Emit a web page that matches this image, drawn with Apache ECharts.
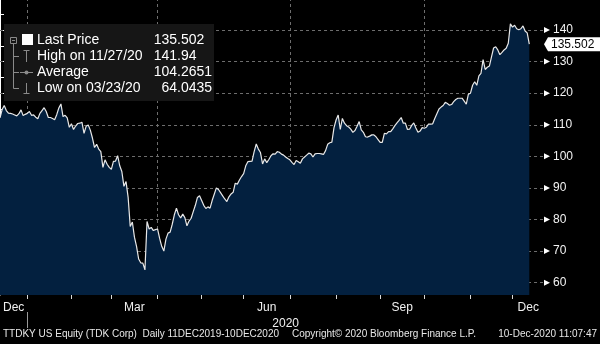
<!DOCTYPE html>
<html>
<head>
<meta charset="utf-8">
<script src="https://cdn.jsdelivr.net/npm/echarts@6/dist/echarts.min.js"></script>
<style>
  html, body { margin: 0; padding: 0; background: #000; }
  #chart { width: 600px; height: 344px; }
</style>
</head>
<body>
<div id="chart"></div>
<script>
// ---- data -------------------------------------------------------------
const firstDay = '2019-12-11';
const lastDay = '2020-12-10';
const marketHolidays = ['2019-12-25', '2020-01-01', '2020-01-20', '2020-02-17', '2020-04-10',
  '2020-05-25', '2020-07-03', '2020-09-07', '2020-11-26'];

// daily closes, TTDKY
const prices = [
  112.2, 114.8, 116.1, 114.5, 113.7, 113.6, 113.4, 113.1, 112.8, 113.5,
  114.7, 112.9, 113.3, 113.6, 114.2, 113.0, 113.1, 112.4, 111.9, 113.6,
  114.5, 115.4, 114.2, 112.3, 112.3, 112.0, 111.6, 113.2, 115.3, 116.6,
  112.6, 113.0, 112.2, 109.2, 110.3, 108.5, 109.6, 110.4, 110.5, 110.8,
  107.3, 109.5, 109.9, 108.3, 105.8, 102.8, 103.8, 102.3, 101.5, 96.5,
  98.9, 97.5, 96.5, 95.9, 98.4, 98.5, 100.2, 97.0, 95.2, 90.5,
  92.0, 87.0, 77.8, 79.2, 74.4, 71.5, 67.5, 66.3, 66.2, 64.0435,
  79.4, 77.0, 77.5, 76.5, 76.8, 77.0, 74.0, 71.5, 70.0, 73.8,
  75.7, 76.0, 78.5, 81.5, 83.6, 81.5, 80.5, 81.7, 80.6, 78.0,
  79.5, 80.4, 82.5, 84.5, 87.0, 87.5, 86.0, 84.5, 83.5, 84.0,
  83.6, 86.0, 88.0, 90.0, 89.5, 88.5, 87.5, 86.5, 85.7, 87.2,
  88.1, 88.6, 91.5, 91.2, 92.5, 93.6, 94.5, 97.0, 98.3, 98.4,
  98.5, 101.5, 103.9, 102.3, 101.2, 97.6, 99.2, 98.0, 99.0, 100.2,
  100.8, 100.7, 101.5, 101.3, 100.7, 100.4, 99.8, 99.3, 98.9, 98.1,
  97.4, 98.7, 98.3, 97.8, 99.2, 99.8, 100.4, 101.0, 100.8, 99.8,
  100.8, 100.9, 100.9, 100.8, 100.6, 101.8, 103.8, 104.3, 104.5, 109.0,
  111.5, 113.1, 108.5, 112.0, 110.5, 109.7, 109.3, 108.6, 107.6, 108.2,
  109.5, 111.0, 108.4, 107.6, 106.2, 106.1, 106.4, 106.8, 106.8, 106.2,
  105.3, 104.4, 104.4, 107.3, 107.1, 107.8, 107.8, 108.7, 109.7, 110.6,
  111.4, 112.3, 110.5, 110.5, 108.5, 108.6, 109.8, 110.6, 109.0, 107.6,
  108.0, 109.1, 108.9, 109.2, 110.2, 110.2, 110.3, 112.0, 113.5, 115.0,
  115.6, 116.1, 117.1, 116.7, 116.2, 116.4, 117.3, 118.0, 118.4, 118.4,
  118.4, 117.5, 116.5, 119.7, 120.0, 122.5, 123.6, 122.5, 125.5, 126.3,
  130.6, 127.5, 128.2, 128.6, 131.5, 134.3, 134.7, 133.7, 132.2, 132.9,
  133.7, 134.2, 135.8, 141.94, 140.9, 141.5, 140.4, 140.1, 140.4, 141.3,
  139.7, 139.1, 135.502
];

const averageText = '104.2651';
const yLabelTicks = [60, 70, 80, 90, 100, 110, 120, 130, 140];
const yMinorTicks = [60, 65, 70, 75, 80, 85, 90, 95, 100, 105, 110, 115, 120, 125, 130, 135, 140, 145];
const monthNames = ['Jan', 'Feb', 'Mar', 'Apr', 'May', 'Jun', 'Jul', 'Aug', 'Sep', 'Oct', 'Nov', 'Dec'];
const labelledMonths = [11, 2, 5, 8];   // Dec, Mar, Jun, Sep
const gridMonths = [0, 3, 6, 9];        // quarter starts
const yearText = '2020';
const footerLeft = 'TTDKY US Equity (TDK Corp)  Daily 11DEC2019-10DEC2020';
const footerMid = 'Copyright\u00A9 2020 Bloomberg Finance L.P.';
const footerRight = '10-Dec-2020 11:07:47';

// ---- trading calendar ---------------------------------------------------
function buildTradingDays(from, to, closed) {
  const skip = new Set(closed);
  const out = [];
  const end = Date.parse(to + 'T00:00:00Z');
  for (let t = Date.parse(from + 'T00:00:00Z'); t <= end; t += 86400000) {
    const d = new Date(t);
    const wd = d.getUTCDay();
    const iso = d.toISOString().slice(0, 10);
    if (wd === 0 || wd === 6 || skip.has(iso)) continue;
    out.push(iso);
  }
  return out;
}
const tradeDates = buildTradingDays(firstDay, lastDay, marketHolidays);

const xEnd = 259;   // axis runs a few sessions past the last close
const yMin = 56.1, yMax = 149.5;

// month boundaries (tick sits on the last session of the previous month)
const months = [];
tradeDates.forEach((d, i) => {
  const m = +d.slice(5, 7) - 1;
  if (i === 0 || m !== months[months.length - 1].month) {
    months.push({ month: m, start: i, edge: i === 0 ? 0 : i - 1 });
  }
});
months.forEach((mo, k) => {
  mo.end = k + 1 < months.length ? months[k + 1].edge : xEnd;
  mo.mid = (mo.edge + mo.end) / 2;
});
const monthTicks = months.slice(1).map(m => m.edge);
const gridX = months.slice(1).filter(m => gridMonths.includes(m.month)).map(m => m.edge);
const labelled = months.filter(m => labelledMonths.includes(m.month));
const labelPos = labelled.map(m => m.mid);
const yearStart = months.find(m => m.month === 0).edge;

// summary stats
const lastVal = prices[prices.length - 1];
let hiIdx = 0, loIdx = 0;
prices.forEach((v, i) => { if (v > prices[hiIdx]) hiIdx = i; if (v < prices[loIdx]) loIdx = i; });
const fmtDate = iso => iso.slice(5, 7) + '/' + iso.slice(8, 10) + '/' + iso.slice(2, 4);
const statRows = [
  ['Last Price', String(lastVal)],
  ['High on ' + fmtDate(tradeDates[hiIdx]), String(prices[hiIdx])],
  ['Average', averageText],
  ['Low on ' + fmtDate(tradeDates[loIdx]), String(prices[loIdx])]
];

// ---- chart ------------------------------------------------------------
const chart = echarts.init(document.getElementById('chart'), null, { renderer: 'canvas' });
const FONT = '"Liberation Sans", Arial, sans-serif';
const gridDash = { color: '#6e6e6e', width: 1, type: [3, 3] };

chart.setOption({
  backgroundColor: '#000',
  animation: false,
  grid: { left: 0, top: 0, right: 56, bottom: 49 },
  xAxis: [
    {
      type: 'value', min: 0, max: xEnd,
      axisLine: { show: false },
      axisTick: { show: true, customValues: monthTicks, length: 4, lineStyle: { color: '#d8d8d8' } },
      axisLabel: {
        customValues: labelPos, margin: 7, color: '#f0f0f0', fontSize: 12, fontFamily: FONT,
        formatter: v => {
          const k = labelPos.findIndex(p => Math.abs(p - v) < 1e-6);
          return k >= 0 ? monthNames[labelled[k].month] : '';
        }
      },
      splitLine: { show: false }
    },
    {
      type: 'value', min: 0, max: xEnd, position: 'bottom', offset: 16,
      axisLine: { show: false }, axisTick: { show: false }, splitLine: { show: false },
      axisLabel: {
        customValues: [(yearStart + xEnd) / 2], margin: 7, color: '#f0f0f0', fontSize: 12, fontFamily: FONT,
        formatter: () => yearText
      }
    }
  ],
  yAxis: {
    type: 'value', position: 'right', min: yMin, max: yMax,
    axisLine: { show: true, lineStyle: { color: '#ffffff', width: 1 } },
    axisTick: { show: true, customValues: yMinorTicks, length: 4, inside: false, lineStyle: { color: '#ffffff' } },
    axisLabel: { customValues: yLabelTicks, margin: 9, color: '#f2f2f2', fontSize: 12, fontFamily: FONT },
    splitLine: { show: false }
  },
  series: [{
    type: 'line',
    data: prices.map((v, i) => [i, v]),
    showSymbol: false,
    lineStyle: { color: '#e8e8e8', width: 1.2 },
    areaStyle: { color: '#03203f', opacity: 1, origin: 'start' },
    z: 3,
    markLine: {
      silent: true, symbol: 'none', label: { show: false }, lineStyle: gridDash, z: 2,
      data: yLabelTicks.map(v => ({ yAxis: v })).concat(gridX.map(v => ({ xAxis: v })))
    },
    markPoint: {
      silent: true, symbol: 'triangle', symbolSize: [6, 6], symbolRotate: -90, symbolOffset: [3, 0],
      itemStyle: { color: '#ffffff' }, label: { show: false },
      data: yLabelTicks.map(v => ({ coord: [xEnd, v] }))
    }
  }]
});

// ---- overlays ---------------------------------------------------------
const grey = '#8a8a8a';
const txt = (x, y, s, extra) => Object.assign({
  type: 'text', x, y,
  style: { text: s, fill: '#ffffff', font: '14px ' + FONT, verticalAlign: 'middle' }
}, extra || {});
const ln = (x1, y1, x2, y2, color) => ({
  type: 'line', shape: { x1, y1, x2, y2 }, style: { stroke: color || grey, lineWidth: 1 }
});

const rowY = [40.5, 56.5, 72.5, 88.5];
const decimalX = 177;
const legendEls = [
  { type: 'rect', shape: { x: 4, y: 24, width: 210, height: 77 }, style: { fill: '#161616' } },
  { type: 'rect', shape: { x: 10.5, y: 37.5, width: 6, height: 6 }, style: { fill: 'none', stroke: grey, lineWidth: 1 } },
  ln(12, 40.5, 15, 40.5),
  ln(13.5, 44, 13.5, rowY[3]),
  ln(13.5, rowY[1], 19, rowY[1]),
  ln(13.5, rowY[2], 19, rowY[2]),
  ln(13.5, rowY[3], 19, rowY[3]),
  { type: 'rect', shape: { x: 22, y: 34, width: 11, height: 11 }, style: { fill: '#ffffff' } },
  ln(23.5, 50.5, 29.5, 50.5), ln(26.5, 50.5, 26.5, 62),
  ln(20, rowY[2], 33, rowY[2]),
  { type: 'circle', shape: { cx: 26.5, cy: rowY[2], r: 2 }, style: { fill: grey } },
  ln(26.5, 83, 26.5, 93), ln(23.5, 93.5, 29.5, 93.5)
];
statRows.forEach((r, k) => {
  const parts = r[1].split('.');
  legendEls.push(txt(37, rowY[k], r[0]));
  legendEls.push(txt(decimalX, rowY[k], parts[0], { style: { text: parts[0], fill: '#fff', font: '14px ' + FONT, verticalAlign: 'middle', align: 'right' } }));
  legendEls.push(txt(decimalX, rowY[k], '.' + parts[1], { style: { text: '.' + parts[1], fill: '#fff', font: '14px ' + FONT, verticalAlign: 'middle', align: 'left' } }));
});

const footFont = '10px ' + FONT;
const footerEls = [
  { type: 'text', x: 3, y: 334, style: { text: footerLeft, fill: '#e8e8e8', font: footFont, verticalAlign: 'middle' } },
  { type: 'text', x: 292, y: 334, style: { text: footerMid, fill: '#e8e8e8', font: footFont, verticalAlign: 'middle' } },
  { type: 'text', x: 597, y: 334, style: { text: footerRight, fill: '#e8e8e8', font: footFont, verticalAlign: 'middle', align: 'right' } }
];

// last-price tag on the axis, and the year divider
const tagY = chart.convertToPixel({ yAxisIndex: 0 }, lastVal);
const axisX = chart.convertToPixel({ xAxisIndex: 0 }, xEnd);
const divX = Math.round(chart.convertToPixel({ xAxisIndex: 0 }, yearStart)) + 0.5;
const tagEls = [
  { type: 'polygon', shape: { points: [[axisX, tagY], [axisX + 4, tagY - 7], [600, tagY - 7], [600, tagY + 7], [axisX + 4, tagY + 7]] },
    style: { fill: '#ffffff' } },
  { type: 'text', x: axisX + 7, y: tagY, style: { text: String(lastVal), fill: '#000', font: '12px ' + FONT, verticalAlign: 'middle' } },
  ln(divX, 312, divX, 328, '#9a9a9a')
];

chart.setOption({ graphic: { elements: legendEls.concat(footerEls, tagEls).map(e => Object.assign({ z: 100 }, e)) } });
</script>
</body>
</html>
